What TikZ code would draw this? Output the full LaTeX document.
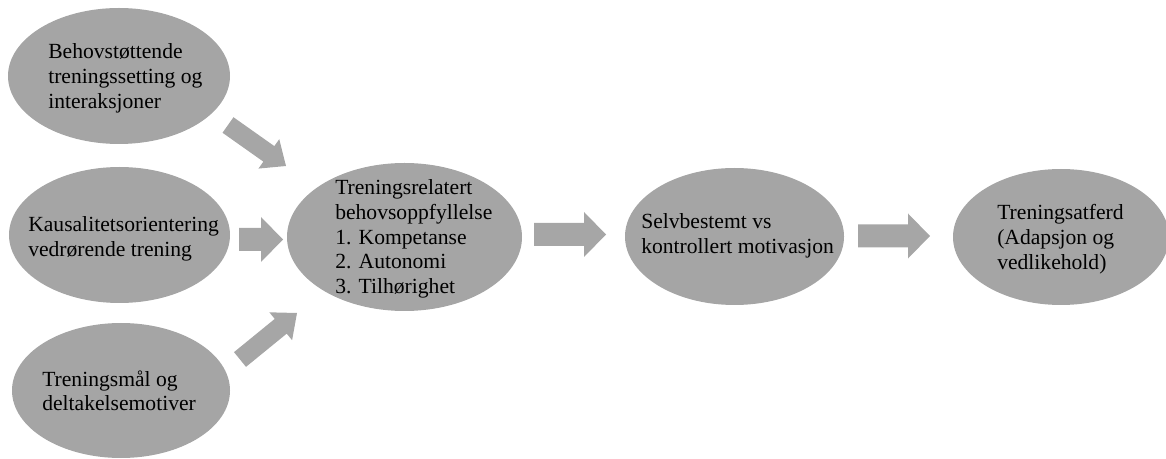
\documentclass[tikz,border=0pt]{standalone}
\usepackage{fontspec}
\setmainfont{Liberation Serif}
\usetikzlibrary{shapes.geometric,calc}
\definecolor{bubblegray}{HTML}{A5A5A5}
\definecolor{arrowgray}{HTML}{A6A6A6}
\newcommand{\txtblock}[1]{\vtop{\baselineskip=18.45pt\lineskiplimit=-20pt\halign{##\hfil\cr#1\crcr}}}
% tail, tip, half shaft width, half head width, head length
\newcommand{\blockarrow}[5]{%
  \coordinate (ba) at ($(#2)!#5!(#1)$);
  \fill[arrowgray] ($(#1)!#3!90:(#2)$) -- ($(ba)!#3!90:(#2)$) -- ($(ba)!#4!90:(#2)$) -- (#2)
    -- ($(ba)!#4!-90:(#2)$) -- ($(ba)!#3!-90:(#2)$) -- ($(#1)!#3!-90:(#2)$) -- cycle;}
\tikzset{
  bubble/.style={ellipse, fill=bubblegray, draw=none, inner sep=0pt},
  txt/.style={inner sep=0pt, anchor=base west, font=\fontsize{16.2pt}{18.45pt}\selectfont, text=black}
}
\begin{document}
\begin{tikzpicture}[x=0.75pt, y=-0.75pt]
\useasboundingbox (0,0) rectangle (1166,459);
\begin{scope}
\clip (0,0) rectangle (1166,459);
% ellipses
\node[bubble, minimum width=222*0.75pt, minimum height=136*0.75pt] (A) at (119,76) {};
\node[bubble, minimum width=221*0.75pt, minimum height=136*0.75pt] (B) at (119.5,235) {};
\node[bubble, minimum width=218*0.75pt, minimum height=135*0.75pt] (C) at (121,390.5) {};
\node[bubble, minimum width=235*0.75pt, minimum height=148*0.75pt] (D) at (404.5,237) {};
\node[bubble, minimum width=219*0.75pt, minimum height=137*0.75pt] (E) at (734.5,236.5) {};
\node[bubble, minimum width=216*0.75pt, minimum height=136*0.75pt] (F) at (1061,237) {};
\end{scope}
% texts
\node[txt] (At) at (48,59) {\txtblock{Behovstøttende\cr treningssetting og\cr interaksjoner}};
\node[txt] (Bt) at (28,232) {\txtblock{Kausalitetsorientering\cr vedrørende trening}};
\node[txt] (Ct) at (42,386) {\txtblock{Treningsmål og\cr deltakelsemotiver}};
\node[txt] (Dt) at (335,195) {\txtblock{Treningsrelatert\cr behovsoppfyllelse\cr 1. Kompetanse\cr 2. Autonomi\cr 3. Tilhørighet}};
\node[txt] (Et) at (641,229) {\txtblock{Selvbestemt vs\cr kontrollert motivasjon}};
\node[txt] (Ft) at (997,220) {\txtblock{Treningsatferd\cr (Adapsjon og\cr vedlikehold)}};
% arrow end points
\coordinate (a1s) at (228,125);   \coordinate (a1e) at (286,166);
\coordinate (a2s) at (239,239.5); \coordinate (a2e) at (283,239.5);
\coordinate (a3s) at (240,359.5); \coordinate (a3e) at (297,313);
\coordinate (a4s) at (534,234.5); \coordinate (a4e) at (606,234.5);
\coordinate (a5s) at (858,236);   \coordinate (a5e) at (930,236);
% block arrows
\blockarrow{a1s}{a1e}{7.125pt}{13.5pt}{15.75pt}
\blockarrow{a2s}{a2e}{8.625pt}{16.875pt}{16.5pt}
\blockarrow{a3s}{a3e}{7.125pt}{13.5pt}{15.75pt}
\blockarrow{a4s}{a4e}{8.625pt}{16.875pt}{16.5pt}
\blockarrow{a5s}{a5e}{8.625pt}{16.875pt}{16.5pt}
\end{tikzpicture}
\end{document}
